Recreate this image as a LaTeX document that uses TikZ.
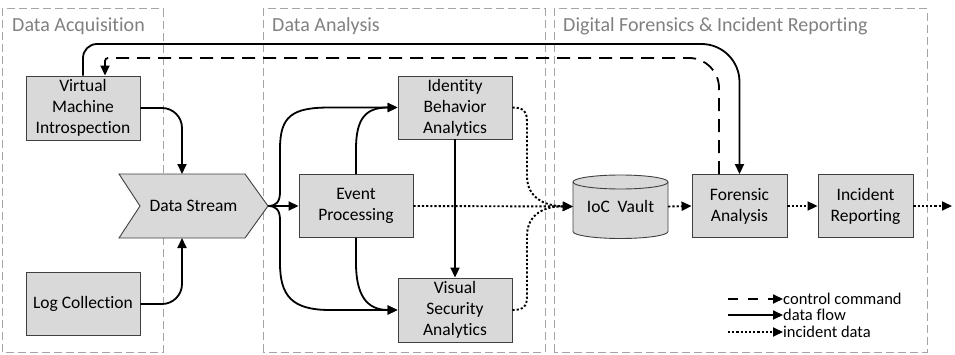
\documentclass[tikz,border=0pt]{standalone}
\usepackage{fontspec}
\setmainfont{Carlito}[Ligatures=NoCommon]
\usetikzlibrary{arrows.meta,calc}
\definecolor{boxfill}{RGB}{217,217,217}
\definecolor{boxline}{RGB}{64,64,64}
\definecolor{grpline}{RGB}{165,165,165}
\definecolor{grptext}{RGB}{128,128,128}
\begin{document}
\begin{tikzpicture}[x=1pt,y=1pt,
  box/.style={draw=boxline, line width=0.9pt, fill=boxfill, align=center, font=\fontsize{17.5}{21}\selectfont, inner sep=0pt},
  plain/.style={inner sep=0pt, align=center, font=\fontsize{17.5}{21}\selectfont},
  grp/.style={draw=grpline, line width=1pt, dash pattern=on 8pt off 4pt},
  grptitle/.style={text=grptext, font=\fontsize{20}{24}\selectfont, anchor=west, inner sep=0pt},
  flow/.style={line width=1.8pt, -{Triangle[length=10pt,width=9pt]}},
  ctrl/.style={flow, dash pattern=on 13pt off 8pt},
  inc/.style={flow, line width=1.9pt, dash pattern=on 2.2pt off 2pt},
  legtext/.style={font=\fontsize{16.5}{19}\selectfont, anchor=west, inner sep=0pt}
]
\useasboundingbox (0,0) rectangle (955,354);

% groups
\draw[grp] (2,2) rectangle (163,345);
\draw[grp] (263,2) rectangle (545,345);
\draw[grp] (554,2) rectangle (927,345);
\node[grptitle] (t1) at (12,328) {Data Acquisition};
\node[grptitle] (t2) at (272,328) {Data Analysis};
\node[grptitle] (t3) at (563,328) {Digital Forensics \& Incident Reporting};

% nodes
\node[box, minimum width=114pt, minimum height=64pt] (vmi) at (83,246) {Virtual\\Machine\\Introspection};
\node[box, minimum width=114pt, minimum height=63pt] (lc) at (83,50) {Log Collection};

\filldraw[fill=boxfill, draw=boxline, line width=0.9pt] (119,180) -- (245,180) -- (268,148) -- (245,116) -- (119,116) -- (140,148) -- cycle;
\node[plain, minimum width=149pt, minimum height=64pt] (ds) at (193.5,148) {Data Stream};
\coordinate (dsin1) at (182,180);
\coordinate (dsin2) at (182,116);

\node[box, minimum width=114pt, minimum height=63pt] (ep) at (356,148) {Event\\Processing};
\node[box, minimum width=114pt, minimum height=63pt] (iba) at (455,246.5) {Identity\\Behavior\\Analytics};
\node[box, minimum width=114pt, minimum height=64pt] (vsa) at (455,44) {Visual\\Security\\Analytics};

\filldraw[fill=boxfill, draw=boxline, line width=0.9pt] (573,172) -- (573,122.5) arc[start angle=180,end angle=360,x radius=47.5pt,y radius=7pt] -- (668,172) arc[start angle=0,end angle=180,x radius=47.5pt,y radius=7pt] -- cycle;
\draw[draw=boxline, line width=0.9pt] (573,172) arc[start angle=180,end angle=360,x radius=47.5pt,y radius=7pt];
\node[plain, minimum width=95pt, minimum height=63pt] (ioc) at (620.5,147.5) {IoC\hspace{0.45em}Vault};

\node[box, minimum width=95pt, minimum height=63pt] (fa) at (739.5,148) {Forensic\\Analysis};
\node[box, minimum width=95pt, minimum height=63pt] (ir) at (865.5,148) {Incident\\Reporting};
\coordinate (out) at (952,148);

% data flow
\draw[flow, rounded corners=20pt] (vmi.east) -| (dsin1);
\draw[flow, rounded corners=20pt] (lc.east) -| (dsin2);
\draw[flow] (ds.east) -- (ep.west);
\draw[flow] (ds.east) .. controls (276,148) and (280,152) .. (280,162) -- (280,205) .. controls (280,238) and (292,246.5) .. (330,246.5) -- (iba.west);
\draw[flow] (ds.east) .. controls (276,148) and (280,144) .. (280,134) -- (280,91) .. controls (280,58) and (292,44) .. (330,44) -- (vsa.west);
\draw[flow] (ep.north) -- (356,205) .. controls (356,236) and (366,246.5) .. (iba.west);
\draw[flow] (ep.south) -- (356,91) .. controls (356,60) and (366,44) .. (vsa.west);
\draw[flow] (iba.south) -- (vsa.north);

% incident data
\draw[inc] (iba.east) .. controls (524,246.5) and (527,242) .. (527,232) -- (527,178) .. controls (527,156) and (545,148) .. (ioc.west);
\draw[inc] (vsa.east) .. controls (524,44) and (527,48) .. (527,58) -- (527,118) .. controls (527,140) and (545,148) .. (ioc.west);
\draw[inc] (ep.east) -- (ioc.west);
\draw[inc] (ioc.east) -- (fa.west);
\draw[inc] (fa.east) -- (ir.west);
\draw[inc] (ir.east) -- (out);

% long connectors
\coordinate (top1) at (0,310);
\coordinate (top2) at (0,296);
\draw[flow] (vmi.north) [rounded corners=14pt] -- (vmi.north |- top1) [rounded corners=38pt] -- (fa.north |- top1) [sharp corners] -- (fa.north);
\draw[ctrl] ([xshift=-20.5pt]fa.north) [rounded corners=30pt] -- ([xshift=-20.5pt]fa.north |- top2) [rounded corners=3pt] -- ([xshift=22pt]vmi.north |- top2) [sharp corners] -- ([xshift=22pt]vmi.north);

% legend
\node[legtext] (lg1) at (783,55) {control command};
\node[legtext] (lg2) at (783,39) {data flow};
\node[legtext] (lg3) at (783,22) {incident data};
\coordinate (lg1s) at (728,55);
\coordinate (lg2s) at (728,39);
\coordinate (lg3s) at (728,22);
\draw[flow, dash pattern=on 10pt off 10pt] (lg1s) -- (lg1.west);
\draw[flow] (lg2s) -- (lg2.west);
\draw[inc] (lg3s) -- (lg3.west);
\end{tikzpicture}
\end{document}
